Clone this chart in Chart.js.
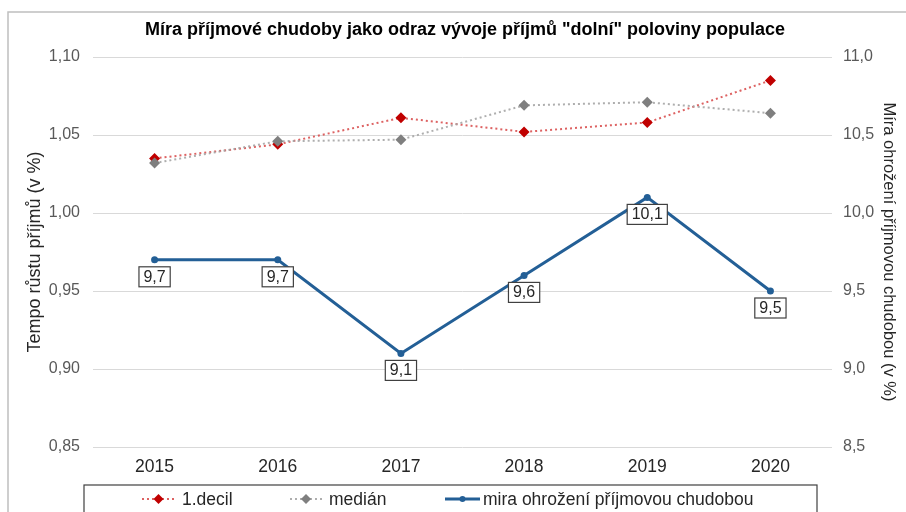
<!DOCTYPE html>
<html>
<head>
<meta charset="utf-8">
<script src="https://cdn.jsdelivr.net/npm/chart.js@4/dist/chart.umd.min.js"></script>
<style>
  html, body { margin: 0; padding: 0; background: #fff; }
  #wrap { width: 906px; height: 512px; position: relative; }
</style>
</head>
<body>
<div id="wrap"><canvas id="c" width="906" height="512"></canvas></div>
<script>
// data
const years = ['2015', '2016', '2017', '2018', '2019', '2020'];
const decil1 = [1.035, 1.044, 1.061, 1.052, 1.058, 1.085];
const median = [1.032, 1.046, 1.047, 1.069, 1.071, 1.064];
const riskRate = [9.7, 9.7, 9.1, 9.6, 10.1, 9.5];

const leftTicks = [0.85, 0.90, 0.95, 1.00, 1.05, 1.10];
const rightTicks = [8.5, 9.0, 9.5, 10.0, 10.5, 11.0];

const titleText = 'Míra příjmové chudoby jako odraz vývoje příjmů "dolní" poloviny populace';
const leftTitle = 'Tempo růstu příjmů (v %)';
const rightTitle = 'Míra ohrožení příjmovou chudobou (v %)';
const legendNames = ['1.decil', 'medián', 'mira ohrožení příjmovou chudobou'];

const FONT = '"Liberation Sans", Arial, sans-serif';
const BLUE = '#235f96';

function fmt(v, d) { return v.toFixed(d).replace('.', ','); }

// frame, title, value boxes and the boxed legend
const decorPlugin = {
  id: 'decor',
  beforeDraw(chart) {
    const ctx = chart.ctx;
    ctx.save();
    ctx.strokeStyle = '#bfbfbf';
    ctx.lineWidth = 1.5;
    ctx.strokeRect(8, 12, 920, 540);
    ctx.fillStyle = '#000';
    ctx.font = 'bold 18px ' + FONT;
    ctx.textAlign = 'center';
    ctx.textBaseline = 'middle';
    ctx.fillText(titleText, 465, 30);
    ctx.restore();
  },
  afterDatasetsDraw(chart) {
    const ctx = chart.ctx;
    const meta = chart.getDatasetMeta(2);
    ctx.save();
    ctx.font = '16px ' + FONT;
    ctx.textAlign = 'center';
    ctx.textBaseline = 'middle';
    meta.data.forEach((pt, i) => {
      const txt = fmt(riskRate[i], 1);
      const w = ctx.measureText(txt).width + 9;
      const h = 20;
      const x = pt.x - w / 2;
      const y = pt.y + 7;
      ctx.fillStyle = '#fff';
      ctx.fillRect(x, y, w, h);
      ctx.strokeStyle = '#404040';
      ctx.lineWidth = 1.2;
      ctx.strokeRect(x, y, w, h);
      ctx.fillStyle = '#262626';
      ctx.fillText(txt, pt.x, y + h / 2 + 0.5);
    });
    ctx.restore();
  },
  afterDraw(chart) {
    const ctx = chart.ctx;
    ctx.save();
    ctx.strokeStyle = '#404040';
    ctx.lineWidth = 1.2;
    ctx.strokeRect(84, 485, 733, 40);
    const ly = 499;
    ctx.font = '17.5px ' + FONT;
    ctx.textBaseline = 'middle';
    ctx.textAlign = 'left';
    const items = [
      { x0: 142, x1: 175, text: 182 },
      { x0: 290, x1: 322, text: 329 },
      { x0: 445, x1: 480, text: 483 }
    ];
    items.forEach((it, i) => {
      const ds = chart.data.datasets[i];
      ctx.save();
      ctx.strokeStyle = ds.borderColor;
      ctx.lineWidth = ds.borderWidth;
      ctx.setLineDash(ds.borderDash || []);
      ctx.beginPath();
      ctx.moveTo(it.x0, ly);
      ctx.lineTo(it.x1, ly);
      ctx.stroke();
      ctx.restore();
      const cx = (it.x0 + it.x1) / 2;
      ctx.fillStyle = ds.pointBackgroundColor;
      ctx.beginPath();
      if (ds.pointStyle === 'rectRot') {
        const r = 5;
        ctx.moveTo(cx, ly - r); ctx.lineTo(cx + r, ly); ctx.lineTo(cx, ly + r); ctx.lineTo(cx - r, ly);
      } else {
        ctx.arc(cx, ly, 3, 0, Math.PI * 2);
      }
      ctx.closePath();
      ctx.fill();
      ctx.fillStyle = '#262626';
      ctx.fillText(legendNames[i], it.text, ly + 1);
    });
    ctx.restore();
  }
};

const ctx = document.getElementById('c').getContext('2d');
new Chart(ctx, {
  type: 'line',
  data: {
    labels: years,
    datasets: [
      {
        label: legendNames[0], data: decil1, yAxisID: 'y',
        borderColor: 'rgba(215,70,70,0.85)', borderWidth: 2, borderDash: [2, 3],
        pointStyle: 'rectRot', pointRadius: 5.5, pointBackgroundColor: '#c00000', pointBorderWidth: 0,
        tension: 0, order: 2
      },
      {
        label: legendNames[1], data: median, yAxisID: 'y',
        borderColor: 'rgba(165,165,165,0.9)', borderWidth: 2, borderDash: [2, 3],
        pointStyle: 'rectRot', pointRadius: 5.5, pointBackgroundColor: '#7f7f7f', pointBorderWidth: 0,
        tension: 0, order: 1
      },
      {
        label: legendNames[2], data: riskRate, yAxisID: 'y2',
        borderColor: BLUE, borderWidth: 3,
        pointStyle: 'circle', pointRadius: 3.5, pointBackgroundColor: BLUE, pointBorderWidth: 0,
        tension: 0, order: 0
      }
    ]
  },
  options: {
    responsive: false,
    animation: false,
    layout: { padding: { top: 57, left: 0, right: 0, bottom: 0 } },
    plugins: { legend: { display: false }, title: { display: false }, tooltip: { enabled: false } },
    scales: {
      x: {
        offset: true,
        grid: { display: false, drawTicks: false },
        border: { display: false },
        ticks: { color: '#262626', font: { family: FONT, size: 17.5 }, padding: 10 },
        afterFit(s) { s.height = 65; }
      },
      y: {
        position: 'left',
        min: 0.85, max: 1.10,
        afterBuildTicks(s) { s.ticks = leftTicks.map(v => ({ value: v })); },
        grid: { color: '#d9d9d9', lineWidth: 1, drawTicks: false },
        border: { display: false },
        ticks: { color: '#595959', font: { family: FONT, size: 16 }, padding: 13,
                 callback: v => fmt(v, 2) },
        title: { display: true, text: leftTitle, color: '#262626',
                 font: { family: FONT, size: 18 }, padding: { top: 24, bottom: 0 } },
        afterFit(s) { s.width = 93; }
      },
      y2: {
        position: 'right',
        min: 8.5, max: 11.0,
        afterBuildTicks(s) { s.ticks = rightTicks.map(v => ({ value: v })); },
        grid: { display: false, drawTicks: false },
        border: { display: false },
        ticks: { color: '#595959', font: { family: FONT, size: 16 }, padding: 11,
                 callback: v => fmt(v, 1) },
        title: { display: true, text: rightTitle, color: '#262626',
                 font: { family: FONT, size: 16.5 }, padding: { top: 8, bottom: 0 } },
        afterFit(s) { s.width = 74; }
      }
    }
  },
  plugins: [decorPlugin]
});
</script>
</body>
</html>
